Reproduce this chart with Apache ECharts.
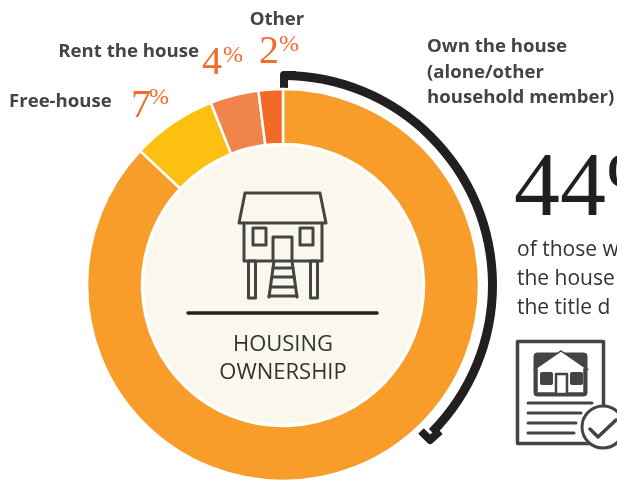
<!DOCTYPE html>
<html><head><meta charset="utf-8">
<style>html,body{margin:0;padding:0;background:#fff;overflow:hidden}#c{width:617px;height:481px}</style>
<script src="https://cdn.jsdelivr.net/npm/echarts@6/dist/echarts.min.js"></script>
</head><body><div id="c"></div>
<script>
const categories = ['Own the house (alone/other household member)', 'Free-house', 'Rent the house', 'Other'];
const shares = [87, 7, 4, 2];
const sliceColors = ['#f99d2a', '#fdc010', '#f0844a', '#f36a27'];
const bracketShares = [37.4, 62.6];
const cx = 283, cy = 285;
const dark = '#444444', ink = '#231f20', accent = '#f26a2e';
const labelFont = '"Open Sans"', bodyFont = '"Open Sans"', serif = '"Liberation Serif"';

function text(x, baseline, str, size, color, family, weight, align) {
  return {type:'text', silent:true, style:{x, y:baseline-0.8*size, text:str, fontSize:size, fill:color, fontFamily:family,
    fontWeight:weight||'normal', align:align||'left', verticalAlign:'top'}};
}
function line(pts, w, color, close) {
  return {type:close?'polygon':'polyline', silent:true, shape:{points:pts},
    style:{stroke:color||dark, lineWidth:w, fill:close?'none':null, lineJoin:'round', lineCap:'round'}};
}
function box(x,y,w,h,fill,stroke,lw,r){
  return {type:'rect', silent:true, shape:{x,y,width:w,height:h,r:r||0}, style:{fill:fill||'none', stroke:stroke||null, lineWidth:lw||0, lineJoin:'round'}};
}

const labelSize = 18.6;
const labels = [
  text(277,25,'Other',labelSize,dark,labelFont,'bold','center'),
  text(199,57,'Rent the house',labelSize,dark,labelFont,'bold','right'),
  text(9,107,'Free-house',labelSize,dark,labelFont,'bold'),
  text(427,52,'Own the house',labelSize,dark,labelFont,'bold'),
  text(427,78,'(alone/other',labelSize,dark,labelFont,'bold'),
  text(427,103,'household member)',labelSize,dark,labelFont,'bold'),
  text(259,64,String(shares[3]),40,accent,serif),
  text(279,52,'%',24,accent,serif),
  text(202,75,String(shares[2]),40,accent,serif),
  text(223,63,'%',24,accent,serif),
  text(131,118,String(shares[1]),40,accent,serif),
  text(149,105,'%',24,accent,serif),
  text(514,218,'44%',92,ink,serif),
  text(517,256,'of those w',21,'#333',bodyFont),
  text(517,285,'the house',21,'#333',bodyFont),
  text(517,314,'the title d',21,'#333',bodyFont),
  text(cx,351,'HOUSING',22,'#333',bodyFont,'normal','center'),
  text(cx,379,'OWNERSHIP',22,'#333',bodyFont,'normal','center')
];

const center = [
  {type:'circle', silent:true, z:-1, shape:{cx,cy,r:139}, style:{fill:'#faf8ec'}},
  line([[188,313],[377,313]],3.5,ink)
];

const houseIcon = [
  line([[245,193],[320,193],[326,223],[239,223]],3,dark,true),
  line([[244,223],[244,261],[322,261],[322,223]],3,dark),
  box(253,228,13,17,null,dark,3),
  box(300,228,13,17,null,dark,3),
  line([[273,261],[273,237],[292,237],[292,261]],3,dark),
  box(248.5,261,7,37,null,dark,3),
  box(310.5,261,7,37,null,dark,3),
  line([[274,261],[269,297]],3,dark),
  line([[292,261],[297,297]],3,dark),
  line([[273,268],[293,268]],3,dark),
  line([[272,277],[294,277]],3,dark),
  line([[271,287],[295,287]],3,dark),
  line([[269,296],[297,296]],3,dark)
];

const docIcon = [
  box(517.5,341.5,86,102,'#fff',dark,3.5),
  box(534,353,53,43,dark,dark,1,3),
  {type:'polygon',silent:true,shape:{points:[[561,351],[587,369],[584,369],[584,393],[537,393],[537,369],[535,369]]},style:{fill:'#fff',stroke:dark,lineWidth:1.5}},
  box(540,372,13,13,dark,null,0,2),
  box(570,372,13,13,dark,null,0,2),
  box(556,374,11,20,'#fff',dark,2.5),
  line([[528,403],[592,403]],3,dark),
  line([[528,413],[581,413]],3,dark),
  line([[528,423],[576,423]],3,dark),
  line([[528,433],[574,433]],3,dark),
  {type:'circle',silent:true,shape:{cx:603,cy:427,r:21},style:{fill:'#fff',stroke:dark,lineWidth:3}},
  line([[590,429],[598,437],[616,420]],3.5,dark)
];

const hooks = [
  {type:'polyline',silent:true,shape:{points:[[284,88],[284,75],[296,75]]},style:{stroke:ink,lineWidth:8,fill:null,lineJoin:'round'}},
  {type:'polyline',silent:true,shape:{points:[[421,431],[430,440],[440,431]]},style:{stroke:ink,lineWidth:8,fill:null,lineJoin:'round'}}
];

const chart = echarts.init(document.getElementById('c'), null, {renderer:'canvas'});
chart.setOption({
  animation:false,
  backgroundColor:'#fff',
  graphic:{elements:[...center,...labels,...houseIcon,...docIcon,...hooks]},
  series:[
    {type:'pie', center:[cx,cy], radius:[141,196], startAngle:90, clockwise:true, silent:true,
     label:{show:false}, labelLine:{show:false},
     itemStyle:{borderColor:'#fff', borderWidth:2.5},
     data:categories.map((name,i)=>({name,value:shares[i],itemStyle:{color:sliceColors[i]}}))},
    {type:'pie', center:[cx,cy], radius:[205,214], startAngle:90, clockwise:true, silent:true,
     label:{show:false}, labelLine:{show:false},
     data:[{value:bracketShares[0],itemStyle:{color:ink}},{value:bracketShares[1],itemStyle:{color:'rgba(0,0,0,0)'}}]}
  ]
});
</script></body></html>
